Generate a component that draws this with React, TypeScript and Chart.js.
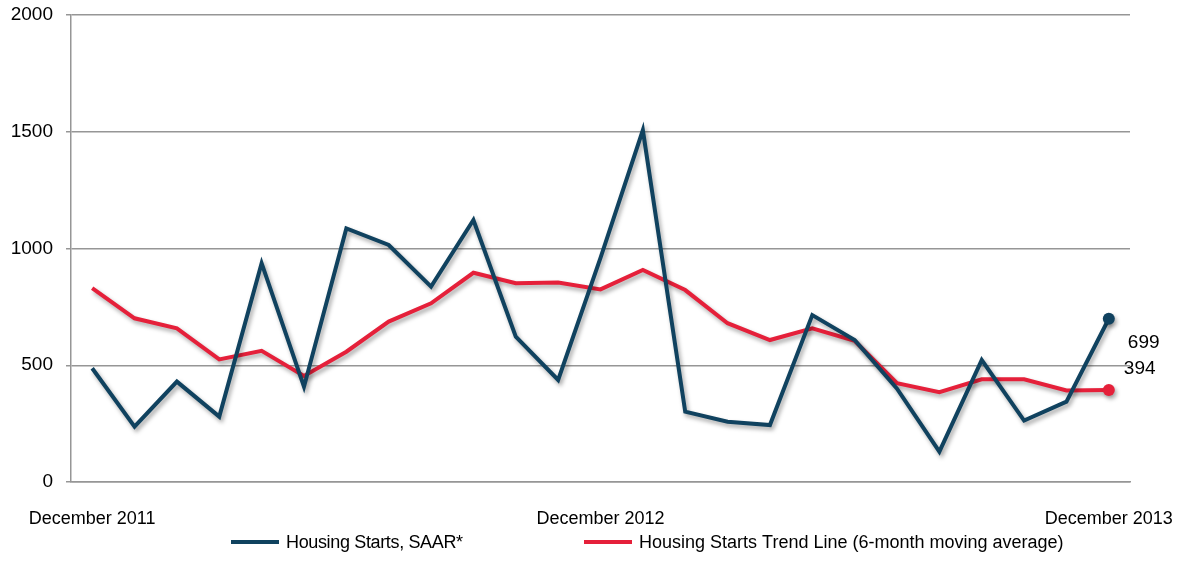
import React, { useEffect, useRef } from "react";
import { Chart, registerables } from "chart.js";

Chart.register(...registerables);

// ---- Data ----
const monthLabels = [
  "December 2011", "January 2012", "February 2012", "March 2012", "April 2012",
  "May 2012", "June 2012", "July 2012", "August 2012", "September 2012",
  "October 2012", "November 2012", "December 2012", "January 2013", "February 2013",
  "March 2013", "April 2013", "May 2013", "June 2013", "July 2013",
  "August 2013", "September 2013", "October 2013", "November 2013", "December 2013",
];
const tickLabels = ["December 2011", "December 2012", "December 2013"];
const housingStarts = [
  487, 237, 430, 280, 937, 408, 1086, 1015, 837, 1122, 622, 437, 960,
  1507, 301, 258, 244, 715, 608, 400, 130, 522, 263, 344, 699,
];
const trendLine = [
  830, 701, 658, 525, 562, 454, 558, 687, 765, 896, 851, 854, 825,
  908, 822, 680, 608, 658, 605, 423, 385, 440, 440, 392, 394,
];
const seriesNames = [
  "Housing Starts, SAAR*",
  "Housing Starts Trend Line (6-month moving average)",
];
const endValueLabels = ["699", "394"];
const yTicks = [0, 500, 1000, 1500, 2000];

// ---- Styles ----
const NAVY = "#10425f";
const RED = "#e5203a";
const GRID = "#969696";
const FONT = "'Liberation Sans', Arial, Helvetica, sans-serif";

const lastOnly = (n: number, r: number) =>
  Array.from({ length: n }, (_, i) => (i === n - 1 ? r : 0));

const shadowPlugin = {
  id: "lineShadow",
  beforeDatasetDraw(chart: any) {
    const ctx = chart.ctx;
    ctx.save();
    ctx.shadowColor = "rgba(0,0,0,0.35)";
    ctx.shadowBlur = 4;
    ctx.shadowOffsetX = 2;
    ctx.shadowOffsetY = 3;
  },
  afterDatasetDraw(chart: any) {
    chart.ctx.restore();
  },
};

const endLabelsPlugin = {
  id: "endLabels",
  afterDatasetsDraw(chart: any) {
    const ctx = chart.ctx;
    const m0 = chart.getDatasetMeta(0).data;
    const m1 = chart.getDatasetMeta(1).data;
    const p0 = m0[m0.length - 1];
    const p1 = m1[m1.length - 1];
    ctx.save();
    ctx.font = `19px ${FONT}`;
    ctx.fillStyle = "#000";
    ctx.textAlign = "left";
    ctx.textBaseline = "middle";
    ctx.fillText(endValueLabels[0], p0.x + 19, p0.y + 24);
    ctx.fillText(endValueLabels[1], p1.x + 15, p1.y - 21);
    ctx.restore();
  },
};

const legendPlugin = {
  id: "customLegend",
  afterDraw(chart: any) {
    const ctx = chart.ctx;
    const y = 542;
    const items = [
      { color: NAVY, text: seriesNames[0], x: 231, spacing: "-0.35px" },
      { color: RED, text: seriesNames[1], x: 584, spacing: "0px" },
    ];
    ctx.save();
    ctx.font = `18px ${FONT}`;
    ctx.textAlign = "left";
    ctx.textBaseline = "middle";
    for (const it of items) {
      ctx.strokeStyle = it.color;
      ctx.lineWidth = 4;
      ctx.lineCap = "butt";
      ctx.beginPath();
      ctx.moveTo(it.x, y);
      ctx.lineTo(it.x + 48, y);
      ctx.stroke();
      ctx.fillStyle = "#000";
      (ctx as any).letterSpacing = it.spacing;
      ctx.fillText(it.text, it.x + 55, y + 1);
    }
    ctx.restore();
  },
};

export default function App() {
  const ref = useRef<HTMLCanvasElement | null>(null);

  useEffect(() => {
    if (!ref.current) return;
    const chart = new Chart(ref.current, {
      type: "line",
      data: {
        labels: monthLabels,
        datasets: [
          {
            label: seriesNames[0],
            data: housingStarts,
            borderColor: NAVY,
            backgroundColor: NAVY,
            borderWidth: 4,
            tension: 0,
            pointRadius: lastOnly(housingStarts.length, 6),
            pointBorderWidth: 0,
            pointBackgroundColor: NAVY,
            borderJoinStyle: "miter",
          },
          {
            label: seriesNames[1],
            data: trendLine,
            borderColor: RED,
            backgroundColor: RED,
            borderWidth: 4,
            tension: 0,
            pointRadius: lastOnly(trendLine.length, 6),
            pointBorderWidth: 0,
            pointBackgroundColor: RED,
            borderJoinStyle: "miter",
          },
        ],
      },
      options: {
        responsive: false,
        animation: false,
        devicePixelRatio: 1,
        layout: { padding: { top: 15, right: 57, bottom: 33, left: 0 } },
        plugins: {
          legend: { display: false },
          tooltip: { enabled: false },
        },
        scales: {
          x: {
            type: "category",
            offset: true,
            grid: { display: false, drawTicks: false },
            border: { display: true, color: GRID, width: 1.5 },
            ticks: {
              autoSkip: false,
              maxRotation: 0,
              minRotation: 0,
              padding: 26,
              color: "#000",
              font: { size: 18, family: FONT },
              callback: (_v: any, i: number) =>
                tickLabels.includes(monthLabels[i]) ? monthLabels[i] : "",
            },
            afterFit: (s: any) => {
              s.height = 48;
              s.paddingLeft = 0;
              s.paddingRight = 0;
            },
          },
          y: {
            min: yTicks[0],
            max: yTicks[yTicks.length - 1],
            afterBuildTicks: (s: any) => {
              s.ticks = yTicks.map((v) => ({ value: v }));
            },
            ticks: {
              padding: 13,
              color: "#000",
              font: { size: 19, family: FONT },
              callback: (v: any) => String(v),
            },
            grid: { color: GRID, lineWidth: 1.5, tickLength: 5, drawTicks: true },
            border: { display: true, color: GRID, width: 1.5 },
            afterFit: (s: any) => {
              s.width = 71;
              s.paddingTop = 0;
              s.paddingBottom = 0;
            },
          },
        },
      },
      plugins: [shadowPlugin, endLabelsPlugin, legendPlugin],
    } as any);
    return () => chart.destroy();
  }, []);

  return (
    <div style={{ position: "fixed", left: 0, top: 0, width: 1187, height: 563, background: "#fff" }}>
      <canvas ref={ref} width={1187} height={563} style={{ display: "block" }} />
    </div>
  );
}
